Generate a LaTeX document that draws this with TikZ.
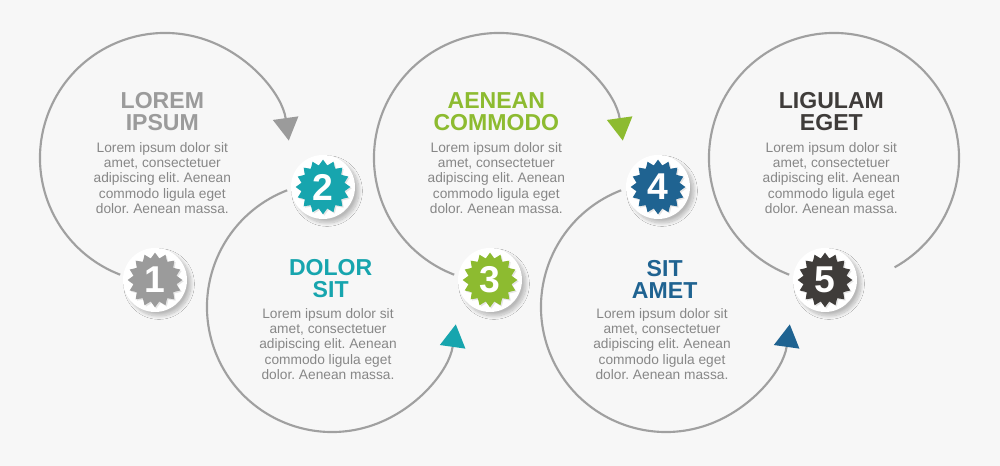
\documentclass[tikz,border=0pt]{standalone}
\usepackage{fontspec}
\setmainfont{Liberation Sans}
\usetikzlibrary{shapes.geometric,arrows.meta,shadows,shadows.blur}
\frenchspacing

\definecolor{bggray}{HTML}{F7F7F7}
\definecolor{ringgray}{HTML}{A0A0A0}
\definecolor{textgray}{HTML}{878787}
\definecolor{stepgray}{HTML}{9B9B9B}
\definecolor{stepteal}{HTML}{17A5AE}
\definecolor{stepgreen}{HTML}{8DBB30}
\definecolor{stepblue}{HTML}{1F6391}
\definecolor{stepdark}{HTML}{3F3C3A}

\tikzset{
    ring/.style={draw=ringgray, line width=1.6pt},
    arrowto/.style={-{Triangle[length=17pt, width=19pt, color=#1]}},
    disc/.style={circle, fill=white, minimum size=48pt, inner sep=0pt,
        blur shadow={shadow xshift=3pt, shadow yshift=-3pt, shadow blur radius=2.5pt,
            shadow blur steps=12, shadow opacity=25}},
    burst/.style={star, star points=16, star point ratio=1.25, minimum size=41pt, inner sep=0pt,
        fill=#1, drop shadow={shadow xshift=1pt, shadow yshift=-1pt, opacity=0.2}},
    digit/.style={text=white, font=\fontsize{28}{28}\selectfont\bfseries},
    headline/.style={text=#1, align=center, font=\fontsize{17.3}{16.5}\selectfont\bfseries},
    blurb/.style={text=textgray, align=center, font=\fontsize{10.3}{11.4}\selectfont}
}

\begin{document}
\begin{tikzpicture}[x=0.75pt, y=0.75pt]

    \fill[bggray] (0,0) rectangle (1000,466);
    \useasboundingbox (0,0) rectangle (1000,466);

    % centres of the rings
    \foreach \n / \cx / \cy in {1/165/308, 2/332/159, 3/499/308, 4/666/159, 5/834/308}
        \coordinate (c\n) at (\cx, \cy);

    % rings
    \foreach \n / \col in {1/stepgray, 3/stepgreen}
        \draw[ring, arrowto=\col] (c\n) ++(249:125) arc[start angle=249, end angle=8, radius=125];
    \foreach \n / \col in {2/stepteal, 4/stepblue}
        \draw[ring, arrowto=\col] (c\n) ++(111:125) arc[start angle=111, end angle=352, radius=125];
    \draw[ring] (c5) ++(249:125) arc[start angle=249, end angle=-61, radius=125];

    % badges
    \foreach \n / \bx / \by / \col in {1/155/186/stepgray, 2/323/279/stepteal, 3/490/186/stepgreen, 4/658/279/stepblue, 5/825/186/stepdark} {
        \node[disc] (b\n) at (\bx, \by) {};
        \node[burst=\col] (s\n) at (b\n) {};
        \node[digit] (d\n) at (s\n) {\n};
    }

    % texts
    \foreach \n / \col / \ta / \tb in {1/stepgray/LOREM/IPSUM, 3/stepgreen/AENEAN/COMMODO, 5/stepdark/LIGULAM/EGET} {
        \node[headline=\col] (t\n) at ([xshift=-2]c\n |- 0,354) {\ta\\\tb};
        \node[blurb] (p\n) at ([xshift=-2]c\n |- 0,288) {Lorem ipsum dolor sit\\amet, consectetuer\\adipiscing elit. Aenean\\commodo ligula eget\\dolor. Aenean massa.};
    }
    \foreach \n / \col / \ta / \tb in {2/stepteal/DOLOR/SIT, 4/stepblue/SIT/AMET} {
        \node[headline=\col] (t\n) at ([xshift=-1]c\n |- 0,187) {\ta\\\tb};
        \node[blurb] (p\n) at ([xshift=-3]c\n |- 0,122) {Lorem ipsum dolor sit\\amet, consectetuer\\adipiscing elit. Aenean\\commodo ligula eget\\dolor. Aenean massa.};
    }

\end{tikzpicture}
\end{document}
